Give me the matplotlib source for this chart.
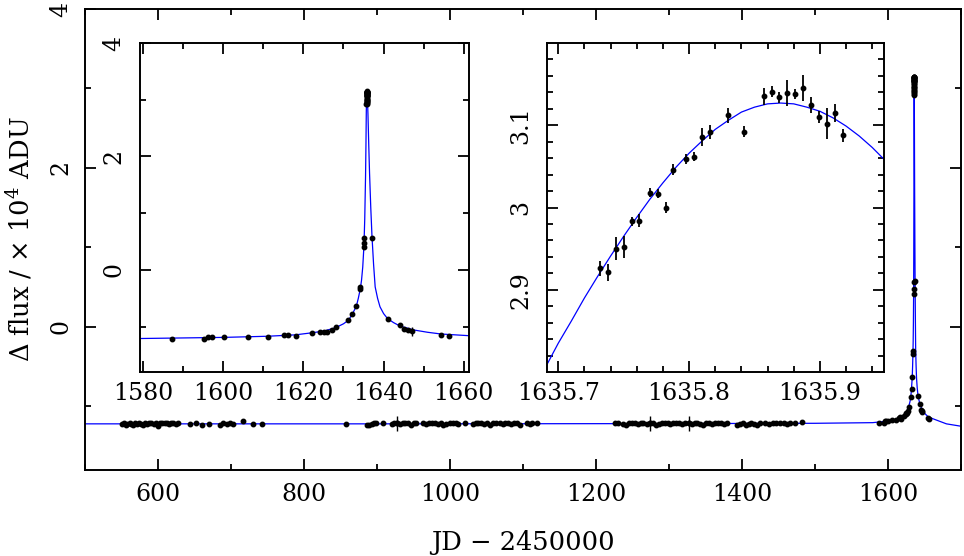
import numpy as np
import matplotlib.pyplot as plt
from matplotlib.ticker import FixedLocator, FormatStrFormatter, FuncFormatter

plt.rcParams["font.family"] = ["DejaVu Serif"]
plt.rcParams["mathtext.fontset"] = "dejavuserif"

# --- data (JD - 2450000, delta flux in 1e4 ADU) ------------------------------
# baseline seasons
t_s1 = [551, 553, 556, 558, 561, 563, 566, 569, 571, 574, 577, 580, 582, 585,
        588, 591, 594, 597, 600, 603, 606, 609, 612, 615, 618, 621, 624, 627,
        644, 652, 660, 670, 685, 689, 694, 699, 703, 716, 730, 742]
f_s1 = [-1.23, -1.22, -1.24, -1.23, -1.22, -1.23, -1.24, -1.22, -1.23, -1.21,
        -1.23, -1.24, -1.22, -1.23, -1.22, -1.21, -1.23, -1.22, -1.25, -1.22,
        -1.21, -1.22, -1.21, -1.23, -1.22, -1.21, -1.23, -1.22,
        -1.23, -1.22, -1.24, -1.23, -1.24, -1.22, -1.23, -1.21, -1.23, -1.19,
        -1.23, -1.23]
t_s2 = [858, 886, 889, 893, 896, 899, 908, 920, 923, 927, 931, 935, 939, 943,
        947, 951, 954, 963, 967, 971, 975, 979, 983, 987, 991, 995, 1000, 1004,
        1008, 1011, 1020, 1031, 1035, 1039, 1043, 1047, 1051, 1055, 1059, 1063,
        1068, 1072, 1076, 1080, 1084, 1088, 1092, 1096, 1105, 1109, 1113, 1119]
f_s2 = [-1.23, -1.24, -1.24, -1.23, -1.22, -1.21, -1.22, -1.23, -1.22, -1.22,
        -1.23, -1.21, -1.22, -1.22, -1.24, -1.22, -1.21, -1.22, -1.23, -1.22,
        -1.21, -1.22, -1.23, -1.22, -1.24, -1.23, -1.22, -1.21, -1.22, -1.23,
        -1.22, -1.23, -1.22, -1.21, -1.22, -1.23, -1.22, -1.24, -1.22, -1.21,
        -1.22, -1.23, -1.22, -1.22, -1.23, -1.21, -1.22, -1.24, -1.22, -1.23,
        -1.22, -1.22]
t_s3 = [1226, 1230, 1237, 1241, 1245, 1249, 1253, 1257, 1261, 1265, 1270, 1274,
        1278, 1282, 1286, 1290, 1294, 1298, 1302, 1306, 1310, 1314, 1318, 1322,
        1327, 1331, 1335, 1339, 1343, 1347, 1351, 1355, 1359, 1363, 1367, 1371,
        1375, 1379, 1393, 1397, 1401, 1405, 1409, 1413, 1417, 1421, 1425, 1432,
        1437, 1442, 1447, 1452, 1457, 1462, 1466, 1473, 1482]
f_s3 = [-1.22, -1.21, -1.23, -1.24, -1.22, -1.21, -1.22, -1.23, -1.22, -1.21,
        -1.23, -1.22, -1.22, -1.24, -1.23, -1.22, -1.21, -1.22, -1.23, -1.22,
        -1.22, -1.21, -1.23, -1.22, -1.22, -1.23, -1.21, -1.22, -1.23, -1.24,
        -1.22, -1.22, -1.23, -1.22, -1.21, -1.22, -1.23, -1.22, -1.24, -1.23,
        -1.22, -1.24, -1.23, -1.22, -1.23, -1.24, -1.22, -1.21, -1.23, -1.22,
        -1.22, -1.21, -1.22, -1.23, -1.22, -1.21, -1.20]
# baseline points with visible error bars
t_bar = [927, 1274, 1327]
f_bar = [-1.22, -1.22, -1.22]
e_bar = [0.09, 0.09, 0.09]

# event season (outside the peak night)
t_ev = [1587.2, 1595.1, 1596.1, 1597.1, 1600.3, 1606.1, 1611.1, 1615.2, 1616.1,
        1618.1, 1622.2, 1624.1, 1625.1, 1625.9, 1627.2, 1628.1, 1631.2, 1632.2,
        1633.2, 1634.1, 1634.2, 1635.1, 1635.1, 1635.2, 1637.2, 1641.2, 1644.1,
        1645.1, 1646.1, 1647.1, 1654.3, 1656.3]
f_ev = [-1.22, -1.22, -1.19, -1.19, -1.19, -1.18, -1.18, -1.15, -1.14,
        -1.16, -1.12, -1.10, -1.09, -1.09, -1.06, -1.01, -0.89, -0.78,
        -0.64, -0.34, -0.31, 0.41, 0.47, 0.56, 0.57, -0.87, -0.97,
        -1.05, -1.06, -1.08, -1.15, -1.16]
e_ev = [0.01] * 29 + [0.08] + [0.01] * 2

# peak night
t_pk = [1635.7318, 1635.738, 1635.744, 1635.750, 1635.756, 1635.762, 1635.770,
        1635.776, 1635.782, 1635.788, 1635.798, 1635.8038, 1635.8097, 1635.8158,
        1635.8295, 1635.842, 1635.857, 1635.8631, 1635.869, 1635.8751,
        1635.8812, 1635.8873, 1635.8931, 1635.8995, 1635.9056, 1635.9117,
        1635.918]
f_pk = [2.926, 2.921, 2.950, 2.952, 2.983, 2.984, 3.018, 3.017, 3.000, 3.046,
        3.059, 3.062, 3.086, 3.092, 3.112, 3.092, 3.135, 3.141, 3.134, 3.139,
        3.138, 3.145, 3.125, 3.110, 3.102, 3.115, 3.088]
e_pk = [0.0095, 0.010, 0.014, 0.0137, 0.006, 0.0075, 0.0057, 0.006, 0.007,
        0.0065, 0.0065, 0.006, 0.0107, 0.0085, 0.0095, 0.0067, 0.010, 0.0065,
        0.0067, 0.016, 0.006, 0.016, 0.0097, 0.0077, 0.0187, 0.0105, 0.008]

# model light curve
t_mod = [500, 900, 1300, 1500, 1560, 1579, 1600, 1611, 1618, 1622, 1625, 1628,
         1630, 1631.2, 1632.2, 1633.2, 1633.7, 1634.2, 1634.5, 1634.8, 1635.1,
         1635.3, 1635.5, 1635.6,
         1635.69, 1635.70, 1635.71, 1635.72, 1635.73, 1635.74, 1635.75,
         1635.76, 1635.77, 1635.78, 1635.79, 1635.80, 1635.81, 1635.82,
         1635.83, 1635.84, 1635.85, 1635.86, 1635.87, 1635.88, 1635.89,
         1635.90, 1635.91, 1635.92, 1635.93, 1635.94, 1635.95,
         1636.1, 1636.3, 1636.5, 1636.8, 1637.1, 1637.5, 1637.9, 1638.5,
         1639.1, 1640.0, 1641.0, 1642.5, 1644.1, 1647.6, 1651, 1654.3, 1661.3,
         1680, 1700]
f_mod = [-1.225, -1.225, -1.222, -1.218, -1.212, -1.21, -1.19, -1.17, -1.145,
         -1.11, -1.08, -1.02, -0.95, -0.89, -0.78, -0.64, -0.5, -0.33, -0.18,
         0.05, 0.42, 0.9, 1.65, 2.2,
         2.805, 2.835, 2.862, 2.890, 2.916, 2.941, 2.965,
         2.988, 3.010, 3.030, 3.049, 3.066, 3.081, 3.095,
         3.106, 3.116, 3.122, 3.126, 3.127, 3.126, 3.122,
         3.117, 3.109, 3.099, 3.087, 3.073, 3.057,
         2.75, 2.2, 1.7, 1.1, 0.6, 0.1, -0.3, -0.5,
         -0.65, -0.77, -0.86, -0.93, -0.99, -1.06, -1.10, -1.13, -1.16,
         -1.225, -1.255]

t_all = t_s1 + t_s2 + t_s3 + t_ev + t_pk
f_all = f_s1 + f_s2 + f_s3 + f_ev + f_pk

FS = 17
LFS = 18.5
BLUE = "#0000ff"


def style(ax, xmaj, xmin, ymaj, ymin, xpad, ypad, fmt="%g"):
    ax.xaxis.set_major_locator(FixedLocator(xmaj))
    ax.xaxis.set_minor_locator(FixedLocator(xmin))
    ax.yaxis.set_major_locator(FixedLocator(ymaj))
    ax.yaxis.set_minor_locator(FixedLocator(ymin))
    ax.xaxis.set_major_formatter(FormatStrFormatter(fmt))
    ax.yaxis.set_major_formatter(FuncFormatter(lambda v, p: f"{v:g}"))
    ax.tick_params(which="both", direction="in", top=True, right=True,
                   width=1.3, labelsize=FS)
    ax.tick_params(which="major", length=8)
    ax.tick_params(which="minor", length=4)
    ax.tick_params(axis="x", pad=xpad)
    ax.tick_params(axis="y", pad=ypad, labelrotation=90)
    for lab in ax.get_yticklabels():
        lab.set_va("center")
    for s in ax.spines.values():
        s.set_linewidth(1.4)


fig = plt.figure(figsize=(9.64, 5.56), dpi=100)

# main panel
ax = fig.add_axes([85 / 964, 86.5 / 556, 876 / 964, 460.5 / 556])
ax.plot(t_mod, f_mod, color=BLUE, lw=0.9, zorder=2)
ax.plot(t_all, f_all, "o", color="k", ms=3.2, zorder=3)
ax.errorbar(t_bar, f_bar, yerr=e_bar, fmt="o", color="k", ms=3.2,
            elinewidth=1.0, capsize=0, zorder=3)
ax.set_xlim(500, 1700)
ax.set_ylim(-1.8, 4)
style(ax, [600, 800, 1000, 1200, 1400, 1600],
      [500, 700, 900, 1100, 1300, 1500, 1700],
      [0, 2, 4], [-1, 1, 3], xpad=10, ypad=9)
ax.set_xlabel("JD \u2212 2450000", fontsize=LFS, va="bottom")
ax.xaxis.set_label_coords(0.5, -0.1857)
ax.set_ylabel(r"$\Delta$ flux / $\times$ 10$^{4}$ ADU", fontsize=LFS)
ax.yaxis.set_label_coords(-0.058, 0.5)

# left inset: the whole event
ax1 = fig.add_axes([140 / 964, 184 / 556, 329 / 964, 329 / 556])
ax1.plot(t_mod, f_mod, color=BLUE, lw=0.9, zorder=2)
ax1.errorbar(t_ev + t_pk, f_ev + f_pk, yerr=e_ev + e_pk, fmt="o", color="k",
             ms=3.2, elinewidth=1.0, capsize=0, zorder=3)
ax1.set_xlim(1579.25, 1661.3)
ax1.set_ylim(-1.8, 4)
style(ax1, [1580, 1600, 1620, 1640, 1660], [1590, 1610, 1630, 1650],
      [0, 2, 4], [-1, 1, 3], xpad=7.5, ypad=10.5)

# right inset: the peak night
ax2 = fig.add_axes([546.5 / 964, 184 / 556, 337.5 / 964, 329 / 556])
ax2.plot(t_mod, f_mod, color=BLUE, lw=0.9, zorder=2)
ax2.errorbar(t_pk, f_pk, yerr=e_pk, fmt="o", color="k", ms=3.2,
             elinewidth=1.3, capsize=0, zorder=3)
ax2.set_xlim(1635.691, 1635.949)
ax2.set_ylim(2.8, 3.2)
style(ax2, [1635.7, 1635.8, 1635.9],
      [1635.72, 1635.74, 1635.76, 1635.78, 1635.82, 1635.84, 1635.86,
       1635.88, 1635.92, 1635.94],
      [2.9, 3.0, 3.1],
      [2.82, 2.84, 2.86, 2.88, 2.92, 2.94, 2.96, 2.98, 3.02, 3.04, 3.06,
       3.08, 3.12, 3.14, 3.16, 3.18],
      xpad=7.5, ypad=10, fmt="%.1f")

fig.savefig("out.png", dpi=100)
